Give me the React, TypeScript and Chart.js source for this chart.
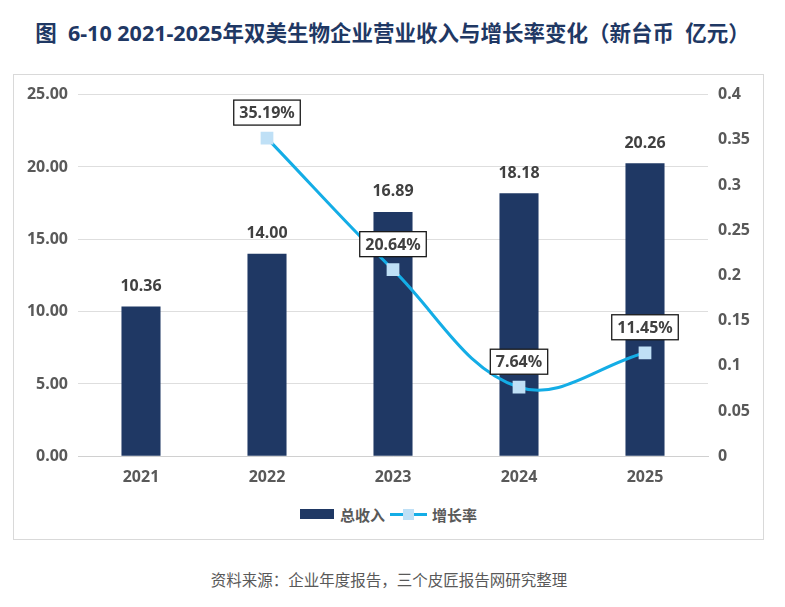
import React, { useEffect, useRef } from 'react';
import { Chart, registerables, Plugin } from 'chart.js';

Chart.register(...registerables);

const years = ['2021', '2022', '2023', '2024', '2025'];
const revenue = [10.36, 14.0, 16.89, 18.18, 20.26];
const growth: (number | null)[] = [null, 0.3519, 0.2064, 0.0764, 0.1145];
const leftTicks = [0, 5, 10, 15, 20, 25];
const rightTicks = [0, 0.05, 0.1, 0.15, 0.2, 0.25, 0.3, 0.35, 0.4];

const FONT = "'Noto Sans', 'Noto Sans CJK SC', sans-serif";
const NAVY = '#1f3864';
const CYAN = '#14ade6';
const MARKER = '#bfe0f6';
const GREY_TEXT = '#595959';

const valueLabels: Plugin<'bar' | 'line'> = {
  id: 'valueLabels',
  afterDatasetsDraw(chart) {
    const ctx = chart.ctx;
    ctx.save();
    ctx.textAlign = 'center';
    ctx.textBaseline = 'middle';
    ctx.font = `bold 16px ${FONT}`;

    // bar values
    chart.getDatasetMeta(0).data.forEach((el, i) => {
      ctx.fillStyle = '#404040';
      ctx.fillText(revenue[i].toFixed(2), el.x, el.y - 20);
    });

    // growth labels in boxes
    chart.getDatasetMeta(1).data.forEach((pt, i) => {
      const g = growth[i];
      if (g == null) return;
      const text = (g * 100).toFixed(2) + '%';
      const w = ctx.measureText(text).width + 11;
      const h = 25;
      const cx = pt.x;
      const cy = pt.y - 25.5;
      ctx.fillStyle = '#ffffff';
      ctx.fillRect(cx - w / 2, cy - h / 2, w, h);
      ctx.strokeStyle = '#1a1a1a';
      ctx.lineWidth = 1.3;
      ctx.strokeRect(cx - w / 2, cy - h / 2, w, h);
      ctx.fillStyle = '#404040';
      ctx.fillText(text, cx, cy + 1);
    });
    ctx.restore();
  },
};

function RevenueChart() {
  const canvasRef = useRef<HTMLCanvasElement>(null);
  const chartInstance = useRef<Chart | null>(null);

  useEffect(() => {
    if (!canvasRef.current) return;
    const ctx = canvasRef.current.getContext('2d');
    if (!ctx) return;

    chartInstance.current = new Chart(ctx, {
      type: 'bar',
      data: {
        labels: years,
        datasets: [
          {
            type: 'bar',
            label: '总收入',
            data: revenue,
            backgroundColor: NAVY,
            barPercentage: 0.62,
            categoryPercentage: 0.5,
            yAxisID: 'y',
            order: 2,
          },
          {
            type: 'line',
            label: '增长率',
            data: growth,
            borderColor: CYAN,
            borderWidth: 3,
            tension: 0.38,
            pointStyle: 'rect',
            pointRadius: 9,
            pointBackgroundColor: MARKER,
            pointBorderColor: MARKER,
            pointBorderWidth: 0,
            yAxisID: 'y1',
            order: 1,
          } as any,
        ],
      },
      plugins: [valueLabels],
      options: {
        animation: false,
        responsive: true,
        maintainAspectRatio: false,
        events: [],
        layout: { padding: { top: 17, left: 0, right: 0, bottom: 0 } },
        plugins: {
          legend: { display: false },
          tooltip: { enabled: false },
        },
        scales: {
          x: {
            grid: { display: false, drawTicks: false },
            border: { color: '#d0d0d0', width: 1 },
            ticks: {
              color: GREY_TEXT,
              padding: 12,
              font: { family: FONT, size: 16, weight: 'bold' },
            },
            afterFit(scale) {
              scale.height = 38.7;
            },
          },
          y: {
            position: 'left',
            min: 0,
            max: 25,
            afterBuildTicks(scale) {
              scale.ticks = leftTicks.map((v) => ({ value: v }));
            },
            grid: { color: '#dedede', lineWidth: 1, drawTicks: false },
            border: { display: false },
            ticks: {
              color: GREY_TEXT,
              padding: 10,
              font: { family: FONT, size: 16, weight: 'bold' },
              callback: (v) => Number(v).toFixed(2),
            },
            afterFit(scale) {
              scale.width = 64;
            },
          },
          y1: {
            position: 'right',
            min: 0,
            max: 0.4,
            afterBuildTicks(scale) {
              scale.ticks = rightTicks.map((v) => ({ value: v }));
            },
            grid: { display: false, drawTicks: false },
            border: { display: false },
            ticks: {
              color: GREY_TEXT,
              padding: 10,
              font: { family: FONT, size: 16, weight: 'bold' },
              callback: (v) => String(Number(Number(v).toFixed(2))),
            },
            afterFit(scale) {
              scale.width = 55;
            },
          },
        },
      },
    });

    return () => {
      chartInstance.current?.destroy();
    };
  }, []);

  return (
    <div style={{ position: 'absolute', left: 14, top: 75, width: 749, height: 420 }}>
      <canvas ref={canvasRef} />
    </div>
  );
}

export default function App() {
  return (
    <div
      style={{
        position: 'absolute',
        left: 0,
        top: 0,
        width: 785,
        height: 607,
        background: '#ffffff',
        fontFamily: FONT,
        overflow: 'hidden',
      }}
    >
      <div
        style={{
          position: 'absolute',
          left: 0,
          top: 18,
          width: 785,
          textAlign: 'center',
          fontSize: 21.5,
          lineHeight: '30px',
          fontWeight: 'bold',
          color: NAVY,
          whiteSpace: 'pre',
        }}
      >
        {'图  6-10 2021-2025年双美生物企业营业收入与增长率变化（新台币  亿元）'}
      </div>

      <div
        style={{
          position: 'absolute',
          left: 13,
          top: 74,
          width: 751,
          height: 466,
          border: '1px solid #d9d9d9',
          boxSizing: 'border-box',
        }}
      />

      <RevenueChart />

      {/* legend */}
      <div
        style={{
          position: 'absolute',
          left: 300,
          top: 504,
          height: 20,
          display: 'flex',
          alignItems: 'center',
          fontSize: 15,
          fontWeight: 'bold',
          color: GREY_TEXT,
        }}
      >
        <div style={{ width: 34, height: 10, background: NAVY }} />
        <span style={{ marginLeft: 6 }}>总收入</span>
        <div style={{ position: 'relative', width: 37, height: 3, background: CYAN, marginLeft: 5 }}>
          <div
            style={{
              position: 'absolute',
              left: 13,
              top: -4,
              width: 11,
              height: 11,
              background: MARKER,
            }}
          />
        </div>
        <span style={{ marginLeft: 5 }}>增长率</span>
      </div>

      <div
        style={{
          position: 'absolute',
          left: 0,
          top: 569,
          width: 778,
          textAlign: 'center',
          fontSize: 15.5,
          lineHeight: '22px',
          color: GREY_TEXT,
        }}
      >
        资料来源：企业年度报告，三个皮匠报告网研究整理
      </div>
    </div>
  );
}
